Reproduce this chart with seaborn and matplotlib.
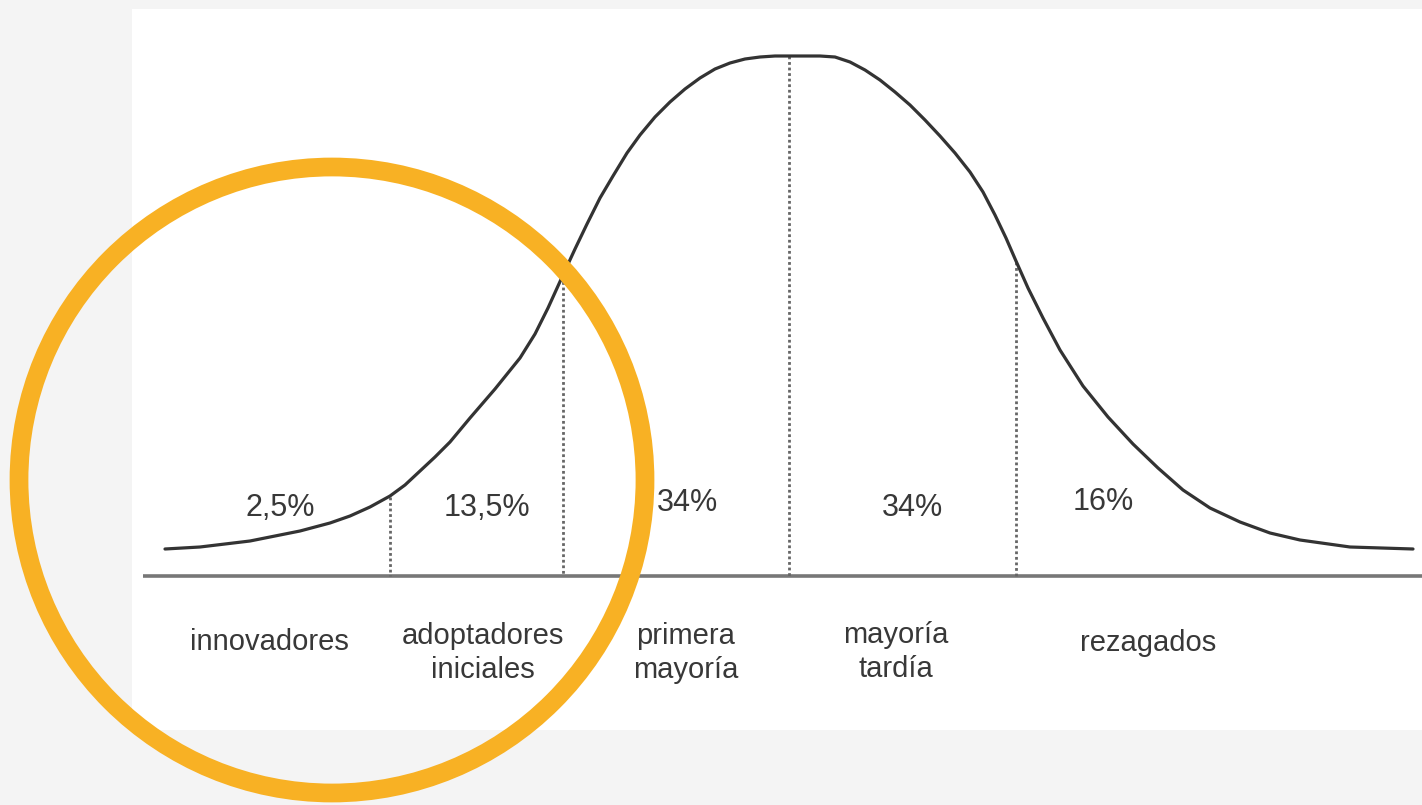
import matplotlib
matplotlib.use("Agg")
import matplotlib.pyplot as plt
import seaborn as sns
import pandas as pd
from matplotlib.patches import Rectangle, Circle

# ---- data (in the chart's pixel-like units) ----
curve_x = [165, 200, 250, 300, 330, 350, 370, 390, 405, 420, 435, 450, 470, 495,
           520, 535, 548, 563, 575, 587, 600, 613, 627, 640, 655, 670, 685, 700,
           715, 730, 745, 760, 775, 789, 820, 835, 850, 865, 880, 895, 910, 925,
           940, 955, 970, 983, 995, 1006, 1016, 1028, 1043, 1060, 1083, 1108,
           1133, 1158, 1183, 1210, 1240, 1270, 1300, 1350, 1413]
curve_y = [549, 547, 541, 531, 523, 516, 507, 496, 485, 471, 457, 442, 418, 389,
           358, 334, 308, 275, 249, 224, 198, 176, 153, 135, 117, 102, 89, 78,
           69, 63, 59, 57, 56, 56, 56, 57, 62, 70, 80, 92, 105, 120,
           136, 153, 172, 192, 215, 238, 261, 288, 318, 350, 386, 417,
           444, 468, 490, 508, 522, 533, 540, 547, 549]

boundaries_x = [390, 563, 789, 1016]
boundaries_top = [497, 276, 56, 262]

percent_labels = ["2,5%", "13,5%", "34%", "34%", "16%"]
percent_x = [280, 487, 687, 912, 1103]
percent_y = [508, 508, 503, 508, 502]

group_labels = ["innovadores", "adoptadores\niniciales", "primera\nmayoría",
                "mayoría\ntardía", "rezagados"]
group_x = [269, 483, 686, 896, 1148]
group_y = [642, 653, 653, 652, 643]

baseline_y = 576

# ---- figure ----
sns.set_theme(style="white")
plt.rcParams['font.family'] = ['Liberation Sans Narrow', 'Liberation Sans', 'DejaVu Sans']

W, H = 1422, 805
fig = plt.figure(figsize=(W / 100, H / 100), dpi=100, facecolor="#f4f4f4")
ax = fig.add_axes([0, 0, 1, 1])
ax.set_facecolor("#f4f4f4")

# white panel
ax.add_patch(Rectangle((132, 9), W - 132, 730 - 9, facecolor="white",
                       edgecolor="none", zorder=0))

# baseline
ax.plot([143, W], [baseline_y, baseline_y], color="#777777", lw=2.6, zorder=2,
        solid_capstyle="butt")

# dotted boundaries
for bx, bt in zip(boundaries_x, boundaries_top):
    ax.plot([bx, bx], [bt, baseline_y], color="#666666", lw=2.0,
            linestyle=(0, (1, 1)), zorder=2)

# bell curve
df = pd.DataFrame({"x": curve_x, "y": curve_y})
sns.lineplot(data=df, x="x", y="y", ax=ax, color="#333333", lw=2.3,
             sort=True, zorder=3)
ax.lines[-1].set_solid_joinstyle("round")

# percent labels
for t, x, y in zip(percent_labels, percent_x, percent_y):
    ax.text(x, y, t, ha="center", va="center", fontsize=22, color="#383838", zorder=4)

# group labels
for t, x, y in zip(group_labels, group_x, group_y):
    ax.text(x, y, t, ha="center", va="center", fontsize=21, color="#383838",
            linespacing=1.3, zorder=4)

# orange highlight circle
ax.add_patch(Circle((332, 480), 313, fill=False, edgecolor="#F8B124",
                    lw=13.5, zorder=5, clip_on=False))

ax.set_xlim(0, W)
ax.set_ylim(H, 0)
ax.axis("off")

fig.savefig("out.png", dpi=100, facecolor=fig.get_facecolor())
